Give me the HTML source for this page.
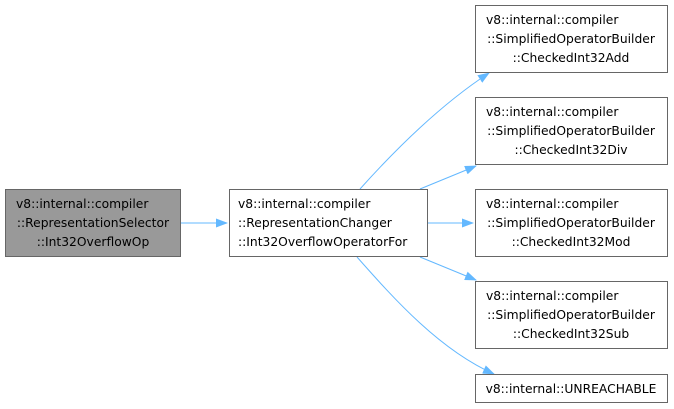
<!DOCTYPE html>
<html><head><meta charset="utf-8"><style>
html,body{margin:0;padding:0;background:#fff;width:674px;height:409px;overflow:hidden}
text{font-family:"DejaVu Sans","Liberation Sans",sans-serif;font-size:12.3px;fill:#000}
</style></head><body>
<svg width="674" height="409" viewBox="0 0 674 409" xmlns="http://www.w3.org/2000/svg">
<defs><marker id="a" markerWidth="12" markerHeight="9" refX="11" refY="4.5" orient="auto" markerUnits="userSpaceOnUse"><path d="M0,0 L12,4.5 L0,9 z" fill="#63b8ff"/></marker></defs>
<g fill="none" stroke="#63b8ff" stroke-width="1">
<path d="M180,223 L227,223" marker-end="url(#a)"/>
<path d="M360,189 C395,150 440,105 489,73" marker-end="url(#a)"/>
<path d="M420,189 L476,166" marker-end="url(#a)"/>
<path d="M428,223 L473,223" marker-end="url(#a)"/>
<path d="M420,257 L476,280" marker-end="url(#a)"/>
<path d="M357,257 C395,300 440,350 494,374" marker-end="url(#a)"/>
</g>
<g stroke="#666" stroke-width="1">
<rect x="5.5" y="189.5" width="175" height="67" fill="#999"/>
<rect x="229.5" y="189.5" width="198" height="67" fill="#fff"/>
<rect x="475.5" y="5.5" width="192" height="67" fill="#fff"/>
<rect x="475.5" y="97.5" width="192" height="67" fill="#fff"/>
<rect x="475.5" y="189.5" width="192" height="67" fill="#fff"/>
<rect x="475.5" y="281.5" width="192" height="67" fill="#fff"/>
<rect x="475.5" y="374.5" width="192" height="28" fill="#fff"/>
</g>
<text x="16" y="208">v8::internal::compiler</text>
<text x="93" y="227" text-anchor="middle">::RepresentationSelector</text>
<text x="93" y="246" text-anchor="middle">::Int32OverflowOp</text>
<text x="238" y="208">v8::internal::compiler</text>
<text x="238" y="227">::RepresentationChanger</text>
<text x="238" y="246">::Int32OverflowOperatorFor</text>
<g>
<text x="486" y="24">v8::internal::compiler</text>
<text x="571" y="43" text-anchor="middle">::SimplifiedOperatorBuilder</text>
<text x="571" y="62" text-anchor="middle">::CheckedInt32Add</text>
<text x="486" y="116">v8::internal::compiler</text>
<text x="571" y="135" text-anchor="middle">::SimplifiedOperatorBuilder</text>
<text x="571" y="154" text-anchor="middle">::CheckedInt32Div</text>
<text x="486" y="208">v8::internal::compiler</text>
<text x="571" y="227" text-anchor="middle">::SimplifiedOperatorBuilder</text>
<text x="571" y="246" text-anchor="middle">::CheckedInt32Mod</text>
<text x="486" y="300">v8::internal::compiler</text>
<text x="571" y="319" text-anchor="middle">::SimplifiedOperatorBuilder</text>
<text x="571" y="338" text-anchor="middle">::CheckedInt32Sub</text>
<text x="571" y="393" text-anchor="middle">v8::internal::UNREACHABLE</text>
</g>
</svg>
</body></html>
